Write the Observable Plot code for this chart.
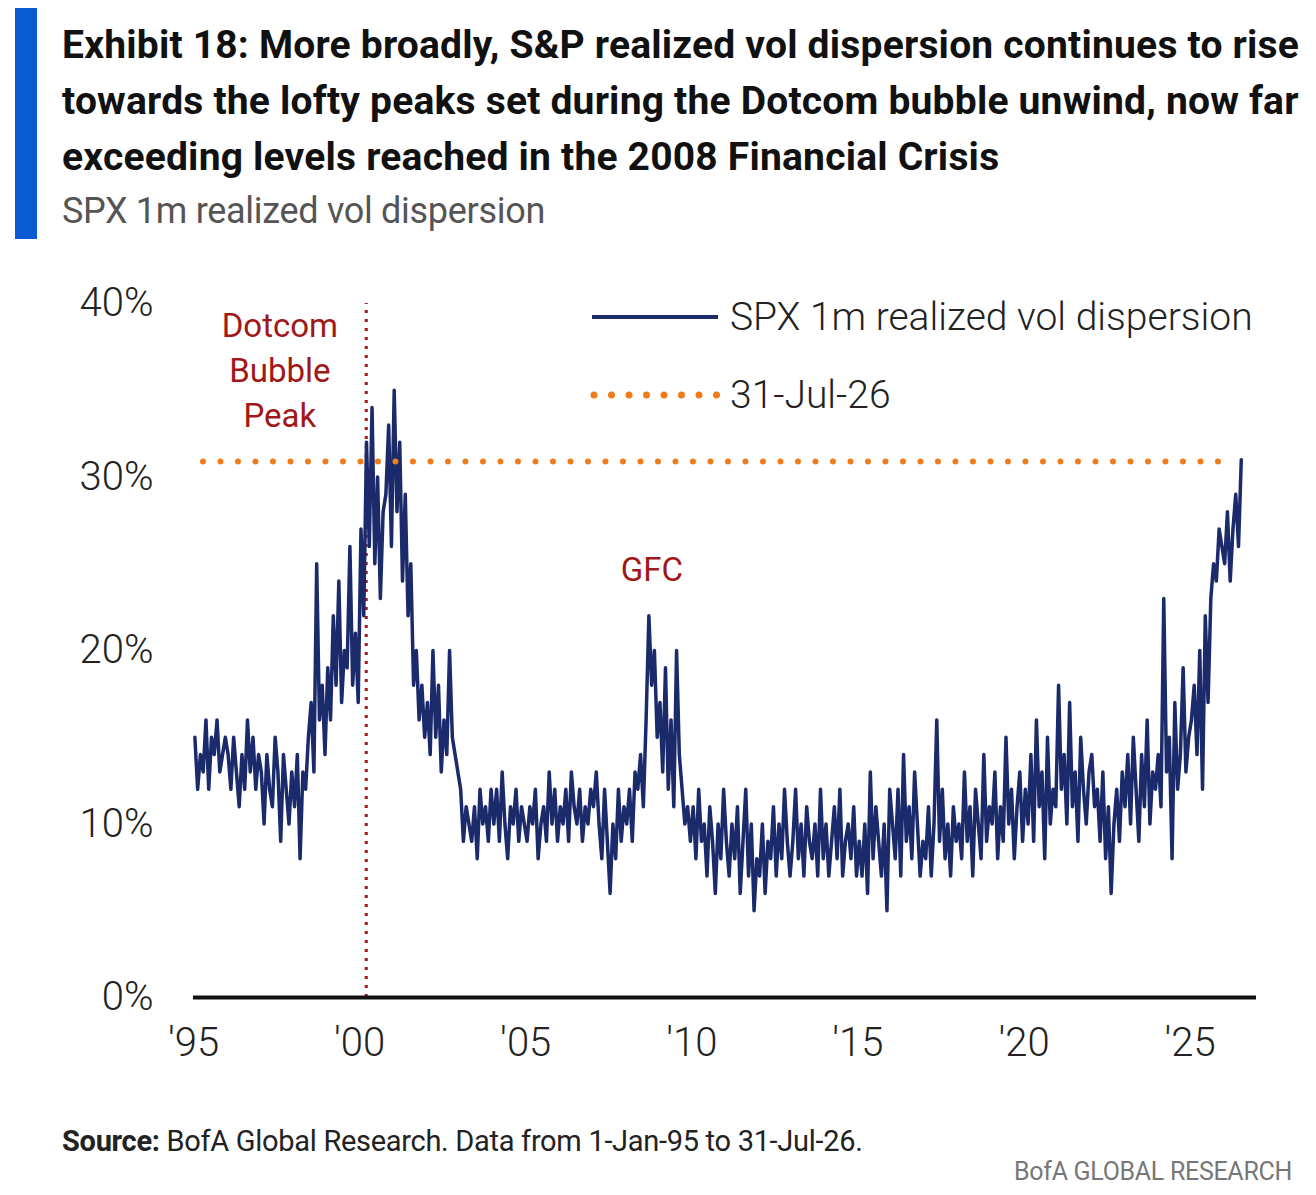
<!DOCTYPE html>
<html><head><meta charset="utf-8">
<script src="https://cdn.jsdelivr.net/npm/d3@7"></script>
<script src="https://cdn.jsdelivr.net/npm/@observablehq/plot@0.6"></script>
<style>
body{margin:0;background:#fff;font-family:Roboto,"Noto Sans",sans-serif;}
#wrap{position:relative;width:1316px;height:1195px;}
#bar{position:absolute;left:15px;top:8px;width:22px;height:231px;background:#0a5bd3;}
#title{position:absolute;left:62px;top:17px;white-space:nowrap;font-weight:700;font-size:39px;line-height:56px;letter-spacing:0.2px;color:#111;}
#sub{position:absolute;left:62px;top:190px;font-size:36px;color:#555;letter-spacing:-0.3px;}
#chart{position:absolute;left:0;top:250px;}
#legend{position:absolute;left:590px;top:278px;font-size:39px;font-weight:300;color:#222;}
#legend div{display:flex;align-items:center;height:78px;}
#src{position:absolute;left:62px;top:1124px;font-size:29px;color:#222;letter-spacing:-0.3px;}
#brand{position:absolute;right:24px;top:1157px;font-size:25px;color:#777;letter-spacing:-0.3px;}
</style></head>
<body><div id="wrap">
<div id="bar"></div>
<div id="title">Exhibit 18: More broadly, S&amp;P realized vol dispersion continues to rise<br>towards the lofty peaks set during the Dotcom bubble unwind, now far<br>exceeding levels reached in the 2008 Financial Crisis</div>
<div id="sub">SPX 1m realized vol dispersion</div>
<div id="chart"></div>
<div id="legend">
 <div><svg width="140" height="10"><line x1="2" x2="128" y1="5" y2="5" stroke="#1b2a6b" stroke-width="4"/></svg>SPX 1m realized vol dispersion</div>
 <div><svg width="140" height="10"><line x1="4" x2="128" y1="5" y2="5" stroke="#f07b1d" stroke-width="7" stroke-linecap="round" stroke-dasharray="0 17.5"/></svg>31-Jul-26</div>
</div>
<div id="src"><b>Source:</b> BofA Global Research. Data from 1-Jan-95 to 31-Jul-26.</div>
<div id="brand">BofA GLOBAL RESEARCH</div>
</div>
<script>
const startYear = 1995;
const monthly = [
 15,12,14,13,16,12,15,14,16,13,14,15,
 14,12,15,13,11,14,12,16,13,15,12,14,
 13,10,14,12,11,15,13,9,14,12,10,13,
 11,14,8,13,12,15,17,13,25,16,18,14,
 19,16,22,18,24,17,20,19,26,18,21,17,
 27,22,32,26,34,25,30,23,28,29,33,26,
 35,28,32,24,29,22,25,18,20,16,18,15,
 17,14,20,15,18,13,16,14,20,15,14,13,
 12,9,11,10,9,11,8,12,10,11,9,12,
 10,12,9,13,10,8,11,10,12,9,11,10,
 9,11,10,12,8,10,11,9,13,10,12,9,
 11,10,12,9,13,11,10,12,9,11,10,12,
 11,13,10,8,12,9,6,10,8,12,9,11,
 10,12,9,13,12,14,11,16,22,18,20,15,
 17,13,19,12,16,11,20,14,12,10,11,9,
 11,8,12,9,10,7,11,9,6,10,8,12,
 9,7,10,8,11,6,9,12,7,10,5,8,
 7,10,6,9,8,11,7,10,8,12,9,7,
 9,12,8,10,7,11,9,8,10,7,12,8,
 10,7,9,11,8,12,7,9,10,8,11,7,
 9,7,10,6,13,8,11,9,7,10,5,12,
 10,8,12,7,14,9,11,8,13,10,7,9,
 8,11,7,10,16,9,12,8,10,7,11,9,
 10,8,13,9,11,7,12,10,8,14,9,11,
 10,13,8,11,9,15,10,12,8,11,13,9,
 12,10,14,9,16,11,13,8,15,10,12,11,
 18,12,14,10,17,11,13,9,15,12,10,13,
 14,11,12,9,13,8,11,6,10,12,9,13,
 11,14,10,15,12,9,14,11,16,10,13,12,
 14,11,23,13,15,8,17,12,14,19,13,15,
 16,18,14,20,12,22,17,23,25,24,27,26,
 25,28,24,27,29,26,31
];
const latest = 30.9;
const peakYear = 2000.2;
const xTicks = [1995,2000,2005,2010,2015,2020,2025];
const yTicks = [0,10,20,30,40];
const peakLabel = [{x:1997.6,y:38.7,t:"Dotcom"},{x:1997.6,y:36.1,t:"Bubble"},{x:1997.6,y:33.5,t:"Peak"}];
const gfcLabel = [{x:2008.8,y:24.6,t:"GFC"}];

const series = monthly.map((v,i)=>({x:startYear+(i+0.5)/12, y:v}));

const plot = Plot.plot({
  width:1316, height:830,
  marginLeft:193, marginRight:60, marginTop:53, marginBottom:83,
  style:{fontFamily:"Roboto, sans-serif", fontSize:"40px", fontWeight:300, color:"#222", background:"transparent"},
  x:{domain:[1995,2027], ticks:xTicks, tickSize:0, tickPadding:30, tickFormat:d=>"'"+String(d).slice(2), label:null},
  y:{domain:[0,40], ticks:yTicks, tickSize:0, tickPadding:40, tickFormat:d=>d+"%", label:null},
  marks:[
    Plot.ruleX([peakYear],{y1:0,y2:40,stroke:"#a01818",strokeWidth:3,strokeDasharray:"3 6"}),
    Plot.line(series,{x:"x",y:"y",stroke:"#1b2a6b",strokeWidth:3.5}),
    Plot.ruleY([latest],{x1:1995.3,x2:2026.3,stroke:"#f07b1d",strokeWidth:6,strokeLinecap:"round",strokeDasharray:"0 17.5"}),
    Plot.ruleY([0],{stroke:"#111",strokeWidth:4}),
    Plot.text(peakLabel,{x:"x",y:"y",text:"t",fill:"#a01818",fontSize:33,fontWeight:400}),
    Plot.text(gfcLabel,{x:"x",y:"y",text:"t",fill:"#a01818",fontSize:33,fontWeight:400})
  ]
});
document.getElementById("chart").append(plot);
</script>
</body></html>
